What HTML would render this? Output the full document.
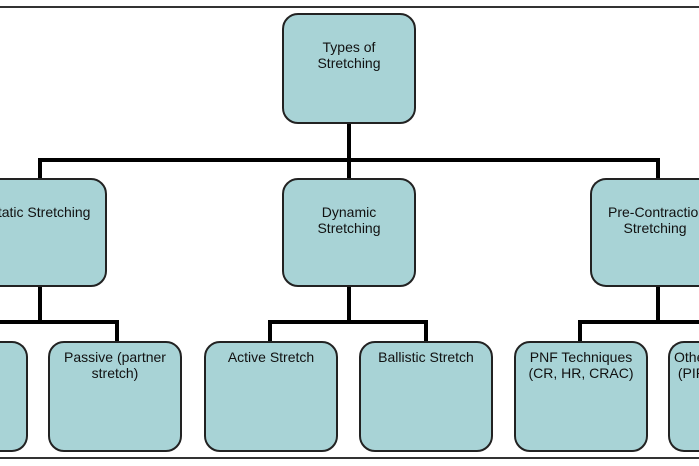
<!DOCTYPE html>
<html style="overflow:hidden"><head><style>
html,body{margin:0;width:699px;height:466px;overflow:hidden;}
body{background:#fff;position:relative;font-family:"Liberation Sans",Arial,sans-serif;}
.b{position:absolute;background:#a8d3d6;border:2px solid #222;border-radius:16px;box-sizing:border-box;text-align:center;font-size:14px;line-height:16px;color:#111;white-space:nowrap;overflow:hidden;}
.l{position:absolute;background:#000;}
</style></head><body>
<div class="l" style="left:0;top:6px;width:699px;height:2px;background:#333"></div>
<div class="l" style="left:0;top:457px;width:699px;height:2px;background:#333"></div>
<div class="l" style="left:347px;top:122px;width:4px;height:57px"></div>
<div class="l" style="left:38px;top:158px;width:622px;height:4px"></div>
<div class="l" style="left:38px;top:158px;width:4px;height:22px"></div>
<div class="l" style="left:656px;top:158px;width:4px;height:22px"></div>
<div class="l" style="left:38px;top:285px;width:4px;height:38px"></div>
<div class="l" style="left:0;top:320px;width:119px;height:4px"></div>
<div class="l" style="left:115px;top:320px;width:4px;height:23px"></div>
<div class="l" style="left:347px;top:285px;width:4px;height:38px"></div>
<div class="l" style="left:268px;top:320px;width:160px;height:4px"></div>
<div class="l" style="left:268px;top:320px;width:4px;height:23px"></div>
<div class="l" style="left:424px;top:320px;width:4px;height:23px"></div>
<div class="l" style="left:656px;top:285px;width:4px;height:38px"></div>
<div class="l" style="left:578px;top:320px;width:121px;height:4px"></div>
<div class="l" style="left:578px;top:320px;width:4px;height:23px"></div>

<div class="b" style="left:282px;top:13px;width:134px;height:111px;padding-top:24px">Types of<br>Stretching</div>
<div class="b" style="left:-28px;top:178px;width:135px;height:109px;padding-top:24px">Static Stretching</div>
<div class="b" style="left:282px;top:178px;width:134px;height:109px;padding-top:24px">Dynamic<br>Stretching</div>
<div class="b" style="left:590px;top:178px;width:109px;height:109px;padding-top:24px;border-right:none;border-radius:16px 0 0 16px;text-align:left;padding-left:16px">Pre-Contraction<br>&nbsp;&nbsp;&nbsp;&nbsp;Stretching</div>

<div class="b" style="left:-20px;top:341px;width:48px;height:111px;padding-top:6px;text-align:right;border-left:none;border-radius:0 16px 16px 0"></div>
<div class="b" style="left:48px;top:341px;width:134px;height:111px;padding-top:6px">Passive (partner<br>stretch)</div>
<div class="b" style="left:204px;top:341px;width:134px;height:111px;padding-top:6px">Active Stretch</div>
<div class="b" style="left:359px;top:341px;width:134px;height:111px;padding-top:6px">Ballistic Stretch</div>
<div class="b" style="left:514px;top:341px;width:134px;height:111px;padding-top:6px">PNF Techniques<br>(CR, HR, CRAC)</div>
<div class="b" style="left:668px;top:341px;width:31px;height:111px;padding-top:6px;text-align:left;padding-left:4px;border-right:none;border-radius:16px 0 0 16px">Other<br>&nbsp;(PIR)</div>
</body></html>
